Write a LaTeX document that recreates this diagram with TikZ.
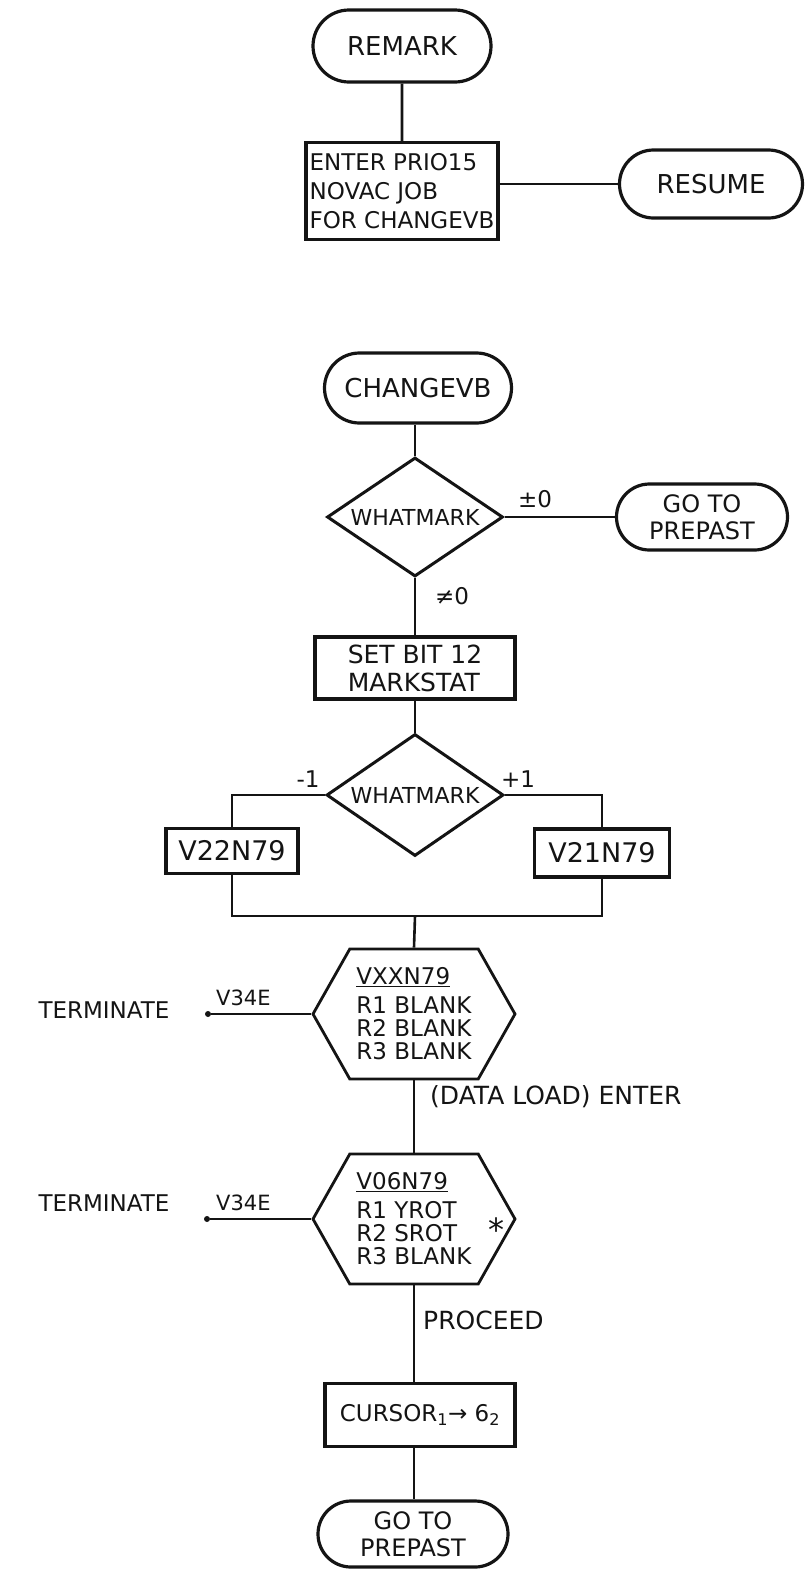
\documentclass[tikz,border=0pt]{standalone}
\usepackage{fontspec}
\setmainfont{DejaVu Sans}
\usetikzlibrary{shapes.geometric,shapes.misc,shapes.symbols}
\definecolor{inkblack}{RGB}{20,20,20}
\definecolor{paperwhite}{RGB}{255,255,255}
\tikzset{
  every node/.style={font=\fontsize{23}{29}\selectfont, text=inkblack},
  flowline/.style={draw=inkblack, line width=2.6pt},
  termbox/.style={rounded rectangle, draw=inkblack, line width=3.2pt, inner sep=0pt, align=center,
    font=\fontsize{26}{28}\selectfont},
  procbox/.style={rectangle, draw=inkblack, line width=3.2pt, inner sep=0pt, align=left},
  decbox/.style={diamond, draw=inkblack, line width=3pt, inner sep=0pt, aspect=1.48,
    font=\fontsize{22}{26}\selectfont},
  hexbox/.style={signal, signal to=west and east, signal pointer angle=121, draw=inkblack, line width=2.8pt,
    inner sep=0pt, align=left, minimum width=202pt, minimum height=130pt, font=\fontsize{23}{23}\selectfont},
  endpoint/.style={circle, fill=inkblack, inner sep=0pt, minimum size=6pt},
  flowlabel/.style={inner sep=0pt}
}

\begin{document}
\begin{tikzpicture}[x=1pt,y=-1pt]

% 1. PAGE
\fill[paperwhite] (0,0) rectangle (807,1575);
\useasboundingbox (0,0) rectangle (807,1575);

% 2. REMARK ENTRY
\node[termbox, minimum width=178pt, minimum height=72pt] (remark) at (402,46) {REMARK};
\node[procbox, minimum width=192pt, minimum height=97pt] (novac) at (402,191) {ENTER PRIO15\\NOVAC JOB\\FOR CHANGEVB};
\node[termbox, minimum width=183pt, minimum height=68pt] (resume) at (711,184) {RESUME};
\draw[flowline] (remark) -- (novac);
\draw[flowline] (resume.west -| novac.east) -- (resume.west);

% 3. CHANGEVB AND FIRST TEST
\node[termbox, minimum width=187pt, minimum height=70pt] (changevb) at (418,388) {CHANGEVB};
\node[decbox, minimum width=176pt, minimum height=119pt] (whatA) at (415,517) {WHATMARK};
\node[termbox, minimum width=171pt, minimum height=66pt, font=\fontsize{24}{27}\selectfont] (prepastA) at (702,517) {GO TO\\PREPAST};
\node[procbox, minimum width=200pt, minimum height=62pt, font=\fontsize{25}{28}\selectfont] (setbit) at (415,668) {SET BIT 12\\MARKSTAT};
\draw[flowline] (whatA.north |- changevb.south) -- (whatA.north);
\draw[flowline] (whatA.east) -- (prepastA.west);
\draw[flowline] (whatA.south) -- (setbit.north);
\node[flowlabel] (eqzero) at (535,499) {±0};
\node[flowlabel] (nezero) at (452,596) {≠0};

% 4. SECOND TEST
\node[decbox, minimum width=177pt, minimum height=122pt] (whatB) at (415,795) {WHATMARK};
\node[procbox, minimum width=132pt, minimum height=45pt, font=\fontsize{27}{29}\selectfont] (vtwotwo) at (232,851) {V22N79};
\node[procbox, minimum width=135pt, minimum height=48pt, font=\fontsize{27}{29}\selectfont] (vtwoone) at (602,853) {V21N79};
\coordinate (merge) at (415,916);
\draw[flowline] (setbit.south) -- (whatB.north);
\draw[flowline] (whatB.west) -| (vtwotwo.north);
\draw[flowline] (whatB.east) -| (vtwoone.north);
\draw[flowline] (vtwotwo.south) |- (merge) -| (vtwoone.south);
\node[flowlabel] (minusone) at (308,779) {-1};
\node[flowlabel] (plusone) at (518,779) {+1};

% 5. DISPLAYS
\node[hexbox] (vxx) at (414,1014) {\underline{VXXN79}\\[6pt]R1 BLANK\\R2 BLANK\\R3 BLANK};
\draw[flowline] (merge) -- (vxx.north);
\node[flowlabel] (termA) at (104,1010) {TERMINATE};
\node[endpoint] (dotA) at (208,1014) {};
\draw[flowline] (dotA) -- (vxx.west);
\node[flowlabel, anchor=south west, font=\fontsize{21}{24}\selectfont] (keyA) at (216,1006) {V34E};
\node[flowlabel, anchor=west, font=\fontsize{25}{28}\selectfont] (dataload) at (430,1097) {(DATA LOAD) ENTER};

\node[hexbox] (vzero) at (414,1219) {\underline{V06N79}\\[6pt]R1 YROT\\R2 SROT\\R3 BLANK};
\node[flowlabel, font=\fontsize{32}{32}\selectfont] (starmark) at (496,1230) {*};
\draw[flowline] (vxx.south) -- (vzero.north);
\node[flowlabel] (termB) at (104,1203) {TERMINATE};
\node[endpoint] (dotB) at (207,1219) {};
\draw[flowline] (dotB) -- (vzero.west);
\node[flowlabel, anchor=south west, font=\fontsize{21}{24}\selectfont] (keyB) at (216,1211) {V34E};
\node[flowlabel, anchor=west, font=\fontsize{25}{28}\selectfont] (proceed) at (423,1320) {PROCEED};

% 6. CURSOR AND EXIT
\node[procbox, minimum width=190pt, minimum height=63pt] (cursor) at (420,1415) {CURSOR\textsubscript{1}→ 6\textsubscript{2}};
\node[termbox, minimum width=190pt, minimum height=66pt, font=\fontsize{24}{27}\selectfont] (prepastB) at (413,1534) {GO TO\\PREPAST};
\draw[flowline] (vzero.south) -- (vzero.south |- cursor.north);
\draw[flowline] (vzero.south |- cursor.south) -- (vzero.south |- prepastB.north);

\end{tikzpicture}
\end{document}
